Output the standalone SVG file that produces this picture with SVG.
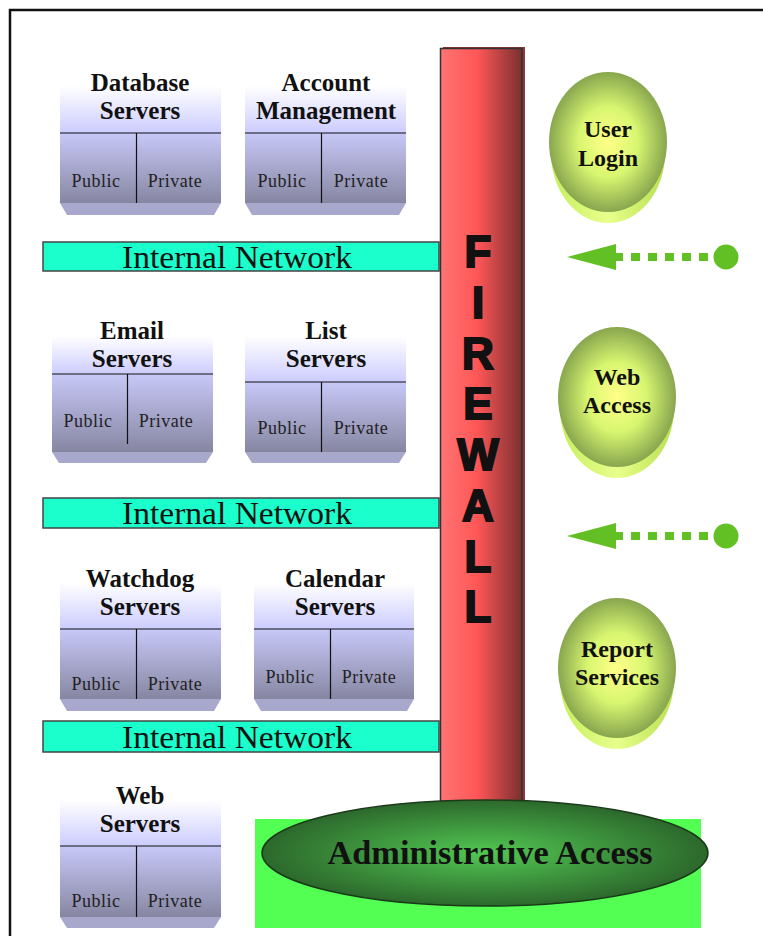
<svg xmlns="http://www.w3.org/2000/svg" width="763" height="936" viewBox="0 0 763 936">
<defs>
<linearGradient id="hdr" x1="0" y1="0" x2="0" y2="1"><stop offset="0" stop-color="#ffffff"/><stop offset="1" stop-color="#ccccff"/></linearGradient>
<linearGradient id="body" x1="0" y1="0" x2="0" y2="1"><stop offset="0" stop-color="#c8c8f8"/><stop offset="1" stop-color="#8686a2"/></linearGradient>
<linearGradient id="fw" x1="0" y1="0" x2="1" y2="0"><stop offset="0" stop-color="#ff7474"/><stop offset="0.45" stop-color="#ff5656"/><stop offset="1" stop-color="#7a3030"/></linearGradient>
<radialGradient id="oval" cx="0.5" cy="0.5" r="0.5"><stop offset="0" stop-color="#ffff88"/><stop offset="0.5" stop-color="#d8f670"/><stop offset="1" stop-color="#88a64e"/></radialGradient>
<linearGradient id="ext" x1="0" y1="0" x2="1" y2="0"><stop offset="0" stop-color="#c6ee5e"/><stop offset="0.5" stop-color="#e8ff8c"/><stop offset="1" stop-color="#b8e050"/></linearGradient>
<radialGradient id="adm" cx="0.5" cy="0.5" r="0.5"><stop offset="0" stop-color="#52c852"/><stop offset="1" stop-color="#2c682c"/></radialGradient>
</defs>
<style>
.title{font-family:"Liberation Serif","Times New Roman",serif;font-weight:bold;font-size:25px;fill:#111;text-anchor:middle}
.cell{font-family:"Liberation Serif","Times New Roman",serif;font-size:18px;letter-spacing:0.5px;fill:#222;text-anchor:middle}
.ln{stroke:#111;stroke-width:1.2}
.base{fill:#a8a8cc}
.net{fill:#1affcc;stroke:#444;stroke-width:1.5}
.nett{font-family:"Liberation Serif","Times New Roman",serif;font-size:31px;fill:#111;text-anchor:middle}
.fwl{font-family:"Liberation Sans",Arial,sans-serif;font-weight:bold;font-size:44px;fill:#111;stroke:#111;stroke-width:2;text-anchor:middle}
.ot{font-family:"Liberation Serif","Times New Roman",serif;font-weight:bold;font-size:24px;fill:#111;text-anchor:middle}
.arr{fill:#62c024}
.dash{stroke:#62c024;stroke-width:8;stroke-dasharray:9 8;fill:none}
</style>
<g id="frame" fill="none" stroke="#111" stroke-width="2.5"><path d="M10,936 V10 H763"/></g>

<g id="net1"><rect class="net" x="43" y="242" width="396" height="29"/><text class="nett" x="237" y="268" textLength="230" lengthAdjust="spacingAndGlyphs">Internal Network</text></g>
<g id="net2"><rect class="net" x="43" y="498" width="396" height="30"/><text class="nett" x="237" y="524" textLength="230" lengthAdjust="spacingAndGlyphs">Internal Network</text></g>
<g id="net3"><rect class="net" x="43" y="721" width="396" height="31"/><text class="nett" x="237" y="748" textLength="230" lengthAdjust="spacingAndGlyphs">Internal Network</text></g>

<g id="db">
<rect x="60" y="86" width="161" height="47" fill="url(#hdr)"/>
<rect x="60" y="133" width="161" height="70" fill="url(#body)"/>
<polygon class="base" points="60,203 221,203 214,215 67,215"/>
<line class="ln" x1="60" y1="133" x2="221" y2="133"/><line class="ln" x1="136.5" y1="133" x2="136.5" y2="203"/>
<text class="title" x="140" y="91">Database</text><text class="title" x="140" y="119">Servers</text>
<text class="cell" x="96" y="187">Public</text><text class="cell" x="175" y="187">Private</text>
</g>
<g id="acct">
<rect x="245" y="86" width="161" height="47" fill="url(#hdr)"/>
<rect x="245" y="133" width="161" height="70" fill="url(#body)"/>
<polygon class="base" points="245,203 406,203 399,215 252,215"/>
<line class="ln" x1="245" y1="133" x2="406" y2="133"/><line class="ln" x1="321.5" y1="133" x2="321.5" y2="203"/>
<text class="title" x="326" y="91">Account</text><text class="title" x="326" y="119">Management</text>
<text class="cell" x="282" y="187">Public</text><text class="cell" x="361" y="187">Private</text>
</g>
<g id="email">
<rect x="52" y="336" width="161" height="38" fill="url(#hdr)"/>
<rect x="52" y="374" width="161" height="78" fill="url(#body)"/>
<polygon class="base" points="52,452 213,452 206,463 59,463"/>
<line class="ln" x1="52" y1="374" x2="213" y2="374"/><line class="ln" x1="127.5" y1="374" x2="127.5" y2="444"/>
<text class="title" x="132" y="339">Email</text><text class="title" x="132" y="367">Servers</text>
<text class="cell" x="88" y="427">Public</text><text class="cell" x="166" y="427">Private</text>
</g>
<g id="list">
<rect x="245" y="336" width="161" height="46" fill="url(#hdr)"/>
<rect x="245" y="382" width="161" height="70" fill="url(#body)"/>
<polygon class="base" points="245,452 406,452 399,463 252,463"/>
<line class="ln" x1="245" y1="382" x2="406" y2="382"/><line class="ln" x1="321.5" y1="382" x2="321.5" y2="452"/>
<text class="title" x="326" y="339">List</text><text class="title" x="326" y="367">Servers</text>
<text class="cell" x="282" y="434">Public</text><text class="cell" x="361" y="434">Private</text>
</g>
<g id="watchdog">
<rect x="60" y="583" width="161" height="46" fill="url(#hdr)"/>
<rect x="60" y="629" width="161" height="70" fill="url(#body)"/>
<polygon class="base" points="60,699 221,699 214,711 67,711"/>
<line class="ln" x1="60" y1="629" x2="221" y2="629"/><line class="ln" x1="136.5" y1="629" x2="136.5" y2="699"/>
<text class="title" x="140" y="587">Watchdog</text><text class="title" x="140" y="615">Servers</text>
<text class="cell" x="96" y="690">Public</text><text class="cell" x="175" y="690">Private</text>
</g>
<g id="calendar">
<rect x="254" y="583" width="160" height="46" fill="url(#hdr)"/>
<rect x="254" y="629" width="160" height="70" fill="url(#body)"/>
<polygon class="base" points="254,699 414,699 407,711 261,711"/>
<line class="ln" x1="254" y1="629" x2="414" y2="629"/><line class="ln" x1="330.5" y1="629" x2="330.5" y2="699"/>
<text class="title" x="335" y="587">Calendar</text><text class="title" x="335" y="615">Servers</text>
<text class="cell" x="290" y="683">Public</text><text class="cell" x="369" y="683">Private</text>
</g>
<g id="web">
<rect x="60" y="800" width="161" height="46" fill="url(#hdr)"/>
<rect x="60" y="846" width="161" height="71" fill="url(#body)"/>
<polygon class="base" points="60,917 221,917 214,928 67,928"/>
<line class="ln" x1="60" y1="846" x2="221" y2="846"/><line class="ln" x1="136.5" y1="846" x2="136.5" y2="917"/>
<text class="title" x="140" y="804">Web</text><text class="title" x="140" y="832">Servers</text>
<text class="cell" x="96" y="907">Public</text><text class="cell" x="175" y="907">Private</text>
</g>

<g id="firewall">
<rect x="443" y="47" width="82" height="770" fill="#8a3838"/>
<rect x="440.5" y="48.5" width="81.5" height="770" fill="url(#fw)" stroke="#333" stroke-width="1.5"/>
<text class="fwl" x="478" y="267">F</text><text class="fwl" x="478" y="318">I</text><text class="fwl" x="478" y="369">R</text><text class="fwl" x="478" y="419">E</text><text class="fwl" x="478" y="470">W</text><text class="fwl" x="478" y="521">A</text><text class="fwl" x="478" y="572">L</text><text class="fwl" x="478" y="622">L</text>
</g>

<g id="admin">
<rect x="255" y="819" width="446" height="109" fill="#52ff52"/>
<ellipse cx="485" cy="853" rx="223" ry="53" fill="url(#adm)" stroke="#1a3a1a" stroke-width="1.5"/>
<text class="ot" x="490" y="864" style="font-size:33px" textLength="325" lengthAdjust="spacingAndGlyphs">Administrative Access</text>
</g>

<g id="userlogin">
<ellipse cx="608" cy="153" rx="57" ry="70" fill="url(#ext)"/>
<ellipse cx="608" cy="142" rx="59" ry="70" fill="url(#oval)"/>
<text class="ot" x="608" y="137">User</text><text class="ot" x="608" y="166">Login</text>
</g>
<g id="webaccess">
<ellipse cx="617" cy="408" rx="57" ry="70" fill="url(#ext)"/>
<ellipse cx="617" cy="397" rx="59" ry="70" fill="url(#oval)"/>
<text class="ot" x="617" y="385">Web</text><text class="ot" x="617" y="413">Access</text>
</g>
<g id="report">
<ellipse cx="617" cy="679" rx="57" ry="70" fill="url(#ext)"/>
<ellipse cx="617" cy="668" rx="59" ry="70" fill="url(#oval)"/>
<text class="ot" x="617" y="657">Report</text><text class="ot" x="617" y="685">Services</text>
</g>

<g id="connectors">
<line class="dash" x1="614" y1="257" x2="708" y2="257"/>
<polygon class="arr" points="567,257 616,244 616,270"/>
<circle class="arr" cx="726" cy="257" r="12.5"/>
<line class="dash" x1="614" y1="536" x2="708" y2="536"/>
<polygon class="arr" points="567,536 616,523 616,549"/>
<circle class="arr" cx="726" cy="536" r="12.5"/>
</g>
</svg>
